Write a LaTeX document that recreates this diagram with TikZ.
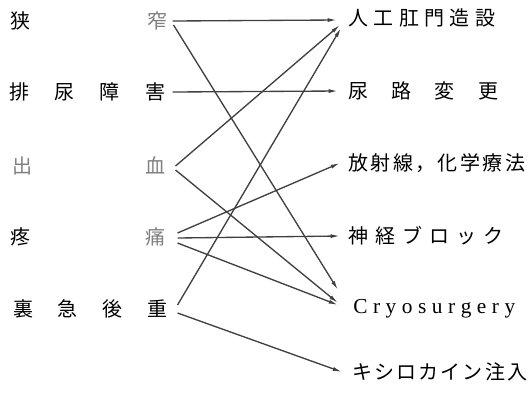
\documentclass[tikz,border=0pt]{standalone}
\usepackage{fontspec}
\newfontfamily\cjk{Noto Sans CJK JP}
\newfontfamily\lat{Liberation Serif}
\usetikzlibrary{arrows.meta}
\definecolor{gtext}{gray}{0.5}
\definecolor{lnc}{gray}{0.25}
\newdimen\pxu \pxu=0.75pt
\def\spreadaux#1#2\spreadend{#1\if\relax\detokenize{#2}\relax\else\hfill\spreadaux#2\spreadend\fi}
\newcommand\spreadtext[2]{\makebox[#1\pxu][s]{\spreadaux#2\spreadend}}
\tikzset{
  lab/.style={inner sep=0pt, font=\cjk\fontsize{15}{18}\selectfont},
  latlab/.style={inner sep=0pt, font=\lat\fontsize{16}{19}\selectfont},
  conn/.style={draw=lnc, line width=1pt, -{Latex[length=7pt,width=3pt]}},
}
\begin{document}
\begin{tikzpicture}[x=0.75pt,y=-0.75pt]
\fill[white] (0,0) rectangle (530,394);
\useasboundingbox (0,0) rectangle (530,394);
% left column
\node[lab, anchor=west] (kyo) at (10,21) {\makebox[157\pxu][s]{狭\hfill\textcolor{gtext}{窄}}};
\node[lab, anchor=west] (hai) at (9,92) {\spreadtext{156}{排尿障害}};
\node[lab, anchor=west, text=gtext] (shu) at (12,166) {\makebox[153\pxu][s]{出\hfill 血}};
\node[lab, anchor=west] (tou) at (10,237) {\makebox[155\pxu][s]{疼\hfill\textcolor{gtext}{痛}}};
\node[lab, anchor=west] (ri) at (13,309) {\spreadtext{154}{裏急後重}};
% right column
\node[lab, anchor=west] (jin) at (348,18) {\spreadtext{147}{人工肛門造設}};
\node[lab, anchor=west] (nyo) at (348,91) {\spreadtext{150}{尿路変更}};
\node[lab, anchor=west] (hou) at (348,163) {\spreadtext{177}{放射線，化学療法}};
\node[lab, anchor=west] (shin) at (348,236) {\spreadtext{155}{神経ブロック}};
\node[latlab, anchor=base west] (cryo) at (353,313) {\spreadtext{162}{Cryosurgery}};
\node[lab, anchor=west] (xylo) at (352,372) {\spreadtext{175}{キシロカイン注入}};
% connectors
\draw[conn] ([shift={(5,0)}]kyo.east) -- ([shift={(-11,2)}]jin.west);
\draw[conn] ([shift={(6,4)}]kyo.east) -- ([shift={(-15,-23)}]cryo.base west);
\draw[conn] ([shift={(7,0)}]hai.east) -- ([shift={(-10,0)}]nyo.west);
\draw[conn] ([shift={(10,0)}]shu.east) -- ([shift={(-8,7)}]jin.west);
\draw[conn] ([shift={(10,4)}]shu.east) -- ([shift={(-15,-10)}]cryo.base west);
\draw[conn] ([shift={(12,-4)}]tou.east) -- ([shift={(-8,0)}]hou.west);
\draw[conn] ([shift={(12,1)}]tou.east) -- ([shift={(-8,0)}]shin.west);
\draw[conn] ([shift={(12,6)}]tou.east) -- ([shift={(-15,-8)}]cryo.base west);
\draw[conn] ([shift={(10,-4)}]ri.east) -- ([shift={(-7,10)}]jin.west);
\draw[conn] ([shift={(10,4)}]ri.east) -- ([shift={(-10,0)}]xylo.west);
\end{tikzpicture}
\end{document}
